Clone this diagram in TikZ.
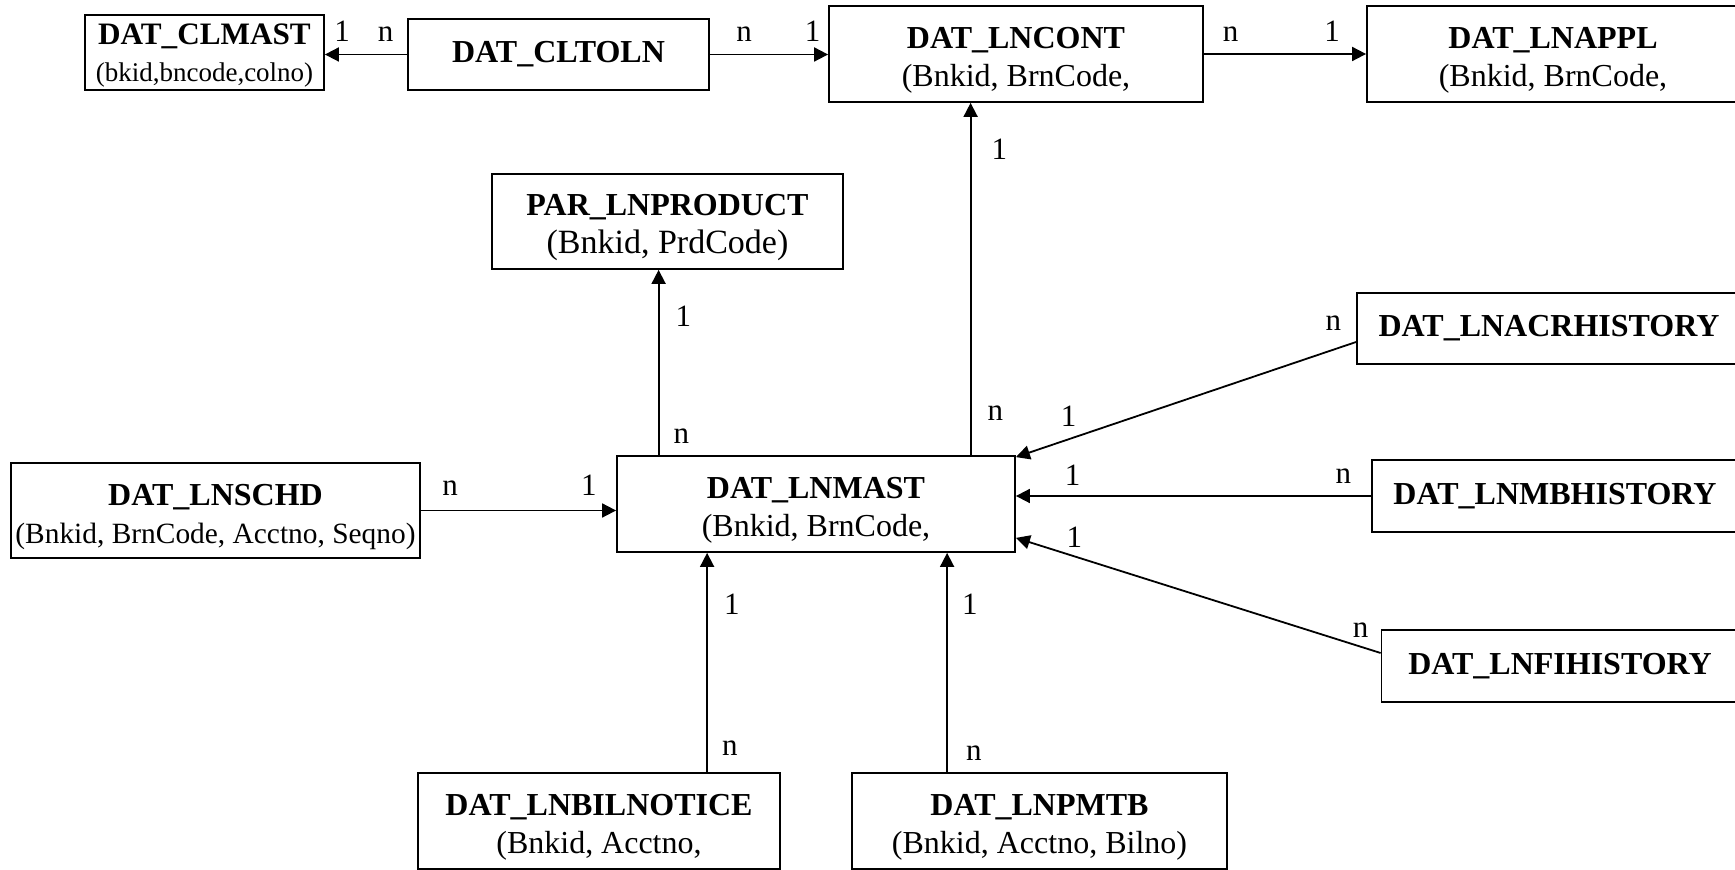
\documentclass[tikz,border=0pt]{standalone}
\usepackage{fontspec}
\setmainfont{Liberation Serif}
\usepackage{tikz}
\usetikzlibrary{arrows.meta, calc}
\newcommand{\tabname}[1]{\rule{0pt}{17pt}\textbf{#1}}
\tikzset{
  entity/.style={
    rectangle, draw=black, line width=0.9pt,
    fill=white, align=center, inner sep=1pt,
    font=\fontsize{16}{19}\selectfont,
  },
  arrow/.style={-{Triangle[length=7pt, width=7pt]}, line width=0.9pt, color=black},
  card/.style={font=\fontsize{15.5}{18}\selectfont, inner sep=0pt},
}

\begin{document}
\begin{tikzpicture}[x=0.5pt, y=-0.5pt]

  \useasboundingbox (0,0) rectangle (1735,870);
  \fill[white] (0,0) rectangle (1735,870);
  \clip (0,0) rectangle (1735,870);

  \node[entity, font=\fontsize{15.6}{18.5}\selectfont, minimum width=119.5pt, minimum height=37.5pt] (clmast) at (204.5,52.5) {\rule{0pt}{13pt}\textbf{DAT\_CLMAST}\\{\fontsize{13.5}{16}\selectfont(bkid,bncode,colno)}};
  \node[entity, minimum width=150.5pt, minimum height=35.5pt] (cltoln) at (558.5,54.5) {\textbf{DAT\_CLTOLN}};
  \node[entity, minimum width=187pt, minimum height=48pt] (cont) at (1016,54) {\tabname{DAT\_LNCONT}\\(Bnkid, BrnCode,};
  \node[entity, minimum width=186pt, minimum height=48pt] (appl) at (1553,54) {\tabname{DAT\_LNAPPL}\\(Bnkid, BrnCode,};
  \node[entity, minimum width=175.5pt, minimum height=47.5pt] (prod) at (667.5,221.5) {\tabname{PAR\_LNPRODUCT}\\{\fontsize{17}{19}\selectfont(Bnkid, PrdCode)}};
  \node[entity, minimum width=192pt, minimum height=35.5pt] (acr) at (1549,328.5) {\textbf{DAT\_LNACRHISTORY}};
  \node[entity, minimum width=204.5pt, minimum height=47.5pt] (schd) at (215.5,510.5) {\tabname{DAT\_LNSCHD}\\{\fontsize{14.7}{19}\selectfont(Bnkid, BrnCode, Acctno, Seqno)}};
  \node[entity, minimum width=199pt, minimum height=48pt] (mast) at (816,504) {\tabname{DAT\_LNMAST}\\(Bnkid, BrnCode,};
  \node[entity, minimum width=183pt, minimum height=36pt] (mb) at (1555,496) {\textbf{DAT\_LNMBHISTORY}};
  \node[entity, minimum width=178.5pt, minimum height=36pt] (fi) at (1560,666) {\textbf{DAT\_LNFIHISTORY}};
  \node[entity, minimum width=181pt, minimum height=48pt] (bil) at (599,821) {\tabname{DAT\_LNBILNOTICE}\\(Bnkid, Acctno,};
  \node[entity, minimum width=187.5pt, minimum height=48pt] (pmtb) at (1039.5,821) {\tabname{DAT\_LNPMTB}\\(Bnkid, Acctno, Bilno)};

  \draw[arrow] (cltoln.west) -- (cltoln.west -| clmast.east)
    node[card, pos=0.26, above=6pt] {n} node[card, pos=0.79, above=6pt] {1};
  \draw[arrow] (cltoln.east) -- (cltoln.east -| cont.west)
    node[card, pos=0.29, above=6pt] {n} node[card, pos=0.87, above=6pt] {1};
  \draw[arrow] (cont.east) -- (appl.west)
    node[card, pos=0.165, above=6pt] {n} node[card, pos=0.79, above=6pt] {1};

  \draw[arrow] ($(mast.north west)+(354.5,0)$) coordinate (m1) -- (m1 |- cont.south)
    node[card, pos=0.119, right=8pt] {n} node[card, pos=0.867, right=10pt] {1};
  \draw[arrow] ($(mast.north west)+(42.5,0)$) coordinate (m2) -- (m2 |- prod.south)
    node[card, pos=0.10, right=7pt] {n} node[card, pos=0.75, right=8pt] {1};
  \draw[arrow] (schd.east) -- (schd.east -| mast.west)
    node[card, pos=0.15, above=7pt] {n} node[card, pos=0.86, above=7pt] {1};

  \draw[arrow] ($(acr.west)+(0,13.5)$) -- ($(mast.north east)+(0,2)$)
    node[card, pos=0.067, above=9pt] {n} node[card, pos=0.845, above=6pt] {1};
  \draw[arrow] (mb.west) -- (mb.west -| mast.east)
    node[card, pos=0.078, above=6pt] {n} node[card, pos=0.84, above=5pt] {1};
  \draw[arrow] ($(fi.west)+(0,-13)$) -- ($(mast.south east)+(0,-15)$)
    node[card, pos=0.055, above=4pt] {n} node[card, pos=0.84, above=4pt] {1};

  \draw[arrow] ($(bil.north west)+(290,0)$) coordinate (b1) -- (b1 |- mast.south)
    node[card, pos=0.11, right=7pt] {n} node[card, pos=0.765, right=8pt] {1};
  \draw[arrow] ($(pmtb.north west)+(96,0)$) coordinate (b2) -- (b2 |- mast.south)
    node[card, pos=0.086, right=9pt] {n} node[card, pos=0.765, right=7pt] {1};

\end{tikzpicture}
\end{document}
